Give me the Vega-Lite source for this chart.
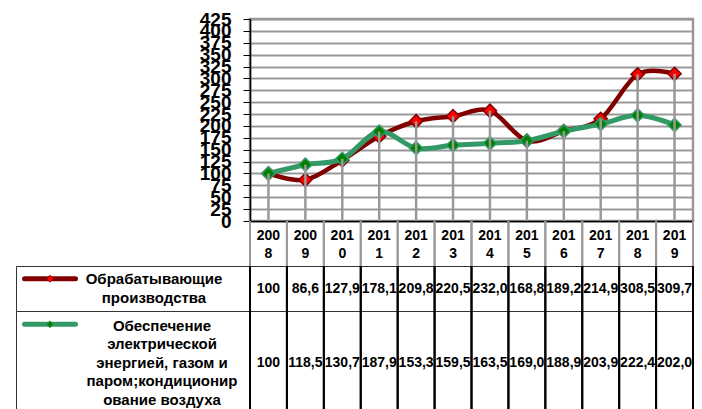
{
  "$schema": "https://vega.github.io/schema/vega-lite/v6.json",
  "background": "white",
  "padding": {"left": 14, "top": 8, "right": 11, "bottom": 0},
  "config": {
    "view": {"stroke": null},
    "font": "Liberation Sans",
    "text": {"font": "Liberation Sans"}
  },
  "datasets": {
    "d": [
      {"year": "2008", "series": "Обрабатывающие производства", "value": 100, "label": "100"},
      {"year": "2009", "series": "Обрабатывающие производства", "value": 86.6, "label": "86,6"},
      {"year": "2010", "series": "Обрабатывающие производства", "value": 127.9, "label": "127,9"},
      {"year": "2011", "series": "Обрабатывающие производства", "value": 178.1, "label": "178,1"},
      {"year": "2012", "series": "Обрабатывающие производства", "value": 209.8, "label": "209,8"},
      {"year": "2013", "series": "Обрабатывающие производства", "value": 220.5, "label": "220,5"},
      {"year": "2014", "series": "Обрабатывающие производства", "value": 232.0, "label": "232,0"},
      {"year": "2015", "series": "Обрабатывающие производства", "value": 168.8, "label": "168,8"},
      {"year": "2016", "series": "Обрабатывающие производства", "value": 189.2, "label": "189,2"},
      {"year": "2017", "series": "Обрабатывающие производства", "value": 214.9, "label": "214,9"},
      {"year": "2018", "series": "Обрабатывающие производства", "value": 308.5, "label": "308,5"},
      {"year": "2019", "series": "Обрабатывающие производства", "value": 309.7, "label": "309,7"},
      {"year": "2008", "series": "Обеспечение электрической энергией, газом и паром;кондиционирование воздуха", "value": 100, "label": "100"},
      {"year": "2009", "series": "Обеспечение электрической энергией, газом и паром;кондиционирование воздуха", "value": 118.5, "label": "118,5"},
      {"year": "2010", "series": "Обеспечение электрической энергией, газом и паром;кондиционирование воздуха", "value": 130.7, "label": "130,7"},
      {"year": "2011", "series": "Обеспечение электрической энергией, газом и паром;кондиционирование воздуха", "value": 187.9, "label": "187,9"},
      {"year": "2012", "series": "Обеспечение электрической энергией, газом и паром;кондиционирование воздуха", "value": 153.3, "label": "153,3"},
      {"year": "2013", "series": "Обеспечение электрической энергией, газом и паром;кондиционирование воздуха", "value": 159.5, "label": "159,5"},
      {"year": "2014", "series": "Обеспечение электрической энергией, газом и паром;кондиционирование воздуха", "value": 163.5, "label": "163,5"},
      {"year": "2015", "series": "Обеспечение электрической энергией, газом и паром;кондиционирование воздуха", "value": 169.0, "label": "169,0"},
      {"year": "2016", "series": "Обеспечение электрической энергией, газом и паром;кондиционирование воздуха", "value": 188.9, "label": "188,9"},
      {"year": "2017", "series": "Обеспечение электрической энергией, газом и паром;кондиционирование воздуха", "value": 203.9, "label": "203,9"},
      {"year": "2018", "series": "Обеспечение электрической энергией, газом и паром;кондиционирование воздуха", "value": 222.4, "label": "222,4"},
      {"year": "2019", "series": "Обеспечение электрической энергией, газом и паром;кондиционирование воздуха", "value": 202.0, "label": "202,0"}
    ],
    "legend": [
      {"series": "Обрабатывающие производства", "name": "Обрабатывающие\nпроизводства"},
      {"series": "Обеспечение электрической энергией, газом и паром;кондиционирование воздуха", "name": "Обеспечение\nэлектрической\nэнергией, газом и\nпаром;кондиционир\nование воздуха"}
    ]
  },
  "columns": 2,
  "spacing": 0,
  "bounds": "flush",
  "align": "each",
  "concat": [
    {
      "width": 234, "height": 202,
      "data": {"values": []},
      "mark": "point"
    },
    {
      "width": 443, "height": 202,
      "data": {"name": "d"},
      "view": {"stroke": "#999999", "strokeWidth": 2.5},
      "encoding": {
        "x": {"field": "year", "type": "ordinal", "title": null,
              "scale": {"type": "point", "padding": 0.5},
              "axis": {"title": null, "labels": false, "ticks": false, "grid": false, "domainColor": "black", "domainWidth": 1.5}}
      },
      "layer": [
        {
          "transform": [{"filter": {"field": "series", "equal": "Обрабатывающие производства"}}],
          "mark": {"type": "line", "interpolate": "cardinal", "strokeWidth": 4.5, "strokeJoin": "round", "color": "#800000"},
          "encoding": {
            "y": {"field": "value", "type": "quantitative", "title": null,
                  "scale": {"domain": [0, 425], "nice": false},
                  "axis": {"title": null, "values": [0, 25, 50, 75, 100, 125, 150, 175, 200, 225, 250, 275, 300, 325, 350, 375, 400, 425],
                           "labelFontSize": 19, "labelFontWeight": "bold", "labelColor": "black", "labelFont": "Liberation Sans",
                           "labelOverlap": false, "labelPadding": 12, "labelBound": false, "labelFlush": false,
                           "tickSize": 7, "tickColor": "black", "tickWidth": 1,
                           "domainColor": "black", "domainWidth": 1.5,
                           "grid": true, "gridColor": "#999999", "gridWidth": 2}}
          }
        },
        {
          "transform": [{"filter": {"field": "series", "equal": "Обрабатывающие производства"}}],
          "mark": {"type": "point", "shape": "diamond", "size": 175, "filled": true, "opacity": 1, "fill": "#ff0000", "stroke": "#800000", "strokeWidth": 1.5},
          "encoding": {
            "y": {"field": "value", "type": "quantitative", "title": null,
                  "scale": {"domain": [0, 425], "nice": false},
                  "axis": {"title": null, "values": [0, 25, 50, 75, 100, 125, 150, 175, 200, 225, 250, 275, 300, 325, 350, 375, 400, 425],
                           "labelFontSize": 19, "labelFontWeight": "bold", "labelColor": "black", "labelFont": "Liberation Sans",
                           "labelOverlap": false, "labelPadding": 12, "labelBound": false, "labelFlush": false,
                           "tickSize": 7, "tickColor": "black", "tickWidth": 1,
                           "domainColor": "black", "domainWidth": 1.5,
                           "grid": true, "gridColor": "#999999", "gridWidth": 2}}
          }
        },
        {
          "transform": [{"filter": {"field": "series", "equal": "Обеспечение электрической энергией, газом и паром;кондиционирование воздуха"}}],
          "mark": {"type": "line", "interpolate": "cardinal", "strokeWidth": 5, "strokeJoin": "round", "color": "#339966"},
          "encoding": {
            "y": {"field": "value", "type": "quantitative", "title": null,
                  "scale": {"domain": [0, 425], "nice": false},
                  "axis": {"title": null, "values": [0, 25, 50, 75, 100, 125, 150, 175, 200, 225, 250, 275, 300, 325, 350, 375, 400, 425],
                           "labelFontSize": 19, "labelFontWeight": "bold", "labelColor": "black", "labelFont": "Liberation Sans",
                           "labelOverlap": false, "labelPadding": 12, "labelBound": false, "labelFlush": false,
                           "tickSize": 7, "tickColor": "black", "tickWidth": 1,
                           "domainColor": "black", "domainWidth": 1.5,
                           "grid": true, "gridColor": "#999999", "gridWidth": 2}}
          }
        },
        {
          "transform": [{"filter": {"field": "series", "equal": "Обеспечение электрической энергией, газом и паром;кондиционирование воздуха"}}],
          "mark": {"type": "point", "shape": "diamond", "size": 175, "filled": true, "opacity": 1, "fill": "#008000", "stroke": "#339966", "strokeWidth": 1.5},
          "encoding": {
            "y": {"field": "value", "type": "quantitative", "title": null,
                  "scale": {"domain": [0, 425], "nice": false},
                  "axis": {"title": null, "values": [0, 25, 50, 75, 100, 125, 150, 175, 200, 225, 250, 275, 300, 325, 350, 375, 400, 425],
                           "labelFontSize": 19, "labelFontWeight": "bold", "labelColor": "black", "labelFont": "Liberation Sans",
                           "labelOverlap": false, "labelPadding": 12, "labelBound": false, "labelFlush": false,
                           "tickSize": 7, "tickColor": "black", "tickWidth": 1,
                           "domainColor": "black", "domainWidth": 1.5,
                           "grid": true, "gridColor": "#999999", "gridWidth": 2}}
          }
        },
        {
          "mark": {"type": "rule", "color": "#999999", "strokeWidth": 2.5},
          "encoding": {
            "y": {"aggregate": "max", "field": "value", "type": "quantitative", "title": null,
                  "scale": {"domain": [0, 425], "nice": false},
                  "axis": {"title": null, "values": [0, 25, 50, 75, 100, 125, 150, 175, 200, 225, 250, 275, 300, 325, 350, 375, 400, 425],
                           "labelFontSize": 19, "labelFontWeight": "bold", "labelColor": "black", "labelFont": "Liberation Sans",
                           "labelOverlap": false, "labelPadding": 12, "labelBound": false, "labelFlush": false,
                           "tickSize": 7, "tickColor": "black", "tickWidth": 1,
                           "domainColor": "black", "domainWidth": 1.5,
                           "grid": true, "gridColor": "#999999", "gridWidth": 2}},
            "y2": {"datum": 0}
          }
        }
      ]
    },
    {
      "width": 234, "height": 45,
      "data": {"values": []},
      "mark": "point"
    },
    {
      "width": 443, "height": 45,
      "data": {"name": "d"},
      "transform": [{"filter": {"field": "series", "equal": "Обрабатывающие производства"}}],
      "layer": [
        {
          "mark": {"type": "rule", "color": "#999999", "strokeWidth": 2},
          "encoding": {
            "x": {"field": "year", "type": "ordinal", "bandPosition": 0, "title": null,
                  "scale": {"type": "band", "paddingInner": 0, "paddingOuter": 0},
                  "axis": {"orient": "top", "title": null, "domain": false, "ticks": false, "grid": false,
                           "labelExpr": "[slice(datum.label,0,3), slice(datum.label,3)]",
                           "labelAngle": 0, "labelFontSize": 14, "labelFontWeight": "bold", "labelColor": "black",
                           "labelFont": "Liberation Sans", "labelBaseline": "top", "labelPadding": -7, "labelLineHeight": 18,
                           "labelAlign": "center"}}
          }
        },
        {
          "mark": {"type": "rule", "color": "#999999", "strokeWidth": 2},
          "encoding": {
            "x": {"field": "year", "type": "ordinal", "bandPosition": 1, "title": null,
                  "scale": {"type": "band", "paddingInner": 0, "paddingOuter": 0}}
          }
        }
      ]
    },
    {
      "width": 234, "height": 45,
      "data": {"name": "legend"},
      "transform": [{"filter": {"field": "series", "equal": "Обрабатывающие производства"}}],
      "view": {"stroke": "#333333", "strokeWidth": 1},
      "layer": [
        {"mark": {"type": "point", "shape": "M-108.5,-9.8L-57.5,-9.8", "size": 4, "filled": false, "opacity": 1, "stroke": "#800000", "strokeWidth": 5, "strokeCap": "round"}},
        {"mark": {"type": "point", "shape": "M-86.5,-9.8L-83,-13.3L-79.5,-9.8L-83,-6.3Z", "size": 4, "filled": true, "opacity": 1, "fill": "#ff0000", "stroke": "#800000", "strokeWidth": 0.8}},
        {"mark": {"type": "text", "lineBreak": "\n", "fontSize": 15, "fontWeight": "bold", "lineHeight": 19, "align": "center", "baseline": "middle", "dx": 21, "dy": -10, "color": "black"},
         "encoding": {"text": {"field": "name", "type": "nominal"}}}
      ]
    },
    {
      "width": 443, "height": 45,
      "data": {"name": "d"},
      "transform": [{"filter": {"field": "series", "equal": "Обрабатывающие производства"}}],
      "view": {"stroke": "#333333", "strokeWidth": 1},
      "encoding": {
        "x": {"field": "year", "type": "ordinal", "title": null,
              "scale": {"type": "band", "paddingInner": 0, "paddingOuter": 0}, "axis": null}
      },
      "layer": [
        {"mark": {"type": "rule", "color": "black", "strokeWidth": 2},
         "encoding": {"x": {"field": "year", "type": "ordinal", "bandPosition": 0, "title": null, "scale": {"type": "band", "paddingInner": 0, "paddingOuter": 0}, "axis": null}}},
        {"mark": {"type": "rule", "color": "black", "strokeWidth": 2},
         "encoding": {"x": {"field": "year", "type": "ordinal", "bandPosition": 1, "title": null, "scale": {"type": "band", "paddingInner": 0, "paddingOuter": 0}, "axis": null}}},
        {"mark": {"type": "text", "fontSize": 14, "fontWeight": "bold", "color": "black", "baseline": "middle"},
         "encoding": {"text": {"field": "label", "type": "nominal"}}}
      ]
    },
    {
      "width": 234, "height": 99,
      "data": {"name": "legend"},
      "transform": [{"filter": {"field": "series", "equal": "Обеспечение электрической энергией, газом и паром;кондиционирование воздуха"}}],
      "view": {"stroke": "#333333", "strokeWidth": 1},
      "layer": [
        {"mark": {"type": "point", "shape": "M-108.5,-36.2L-57.5,-36.2", "size": 4, "filled": false, "opacity": 1, "stroke": "#339966", "strokeWidth": 5, "strokeCap": "round"}},
        {"mark": {"type": "point", "shape": "M-86.5,-36.2L-83,-39.7L-79.5,-36.2L-83,-32.7Z", "size": 4, "filled": true, "opacity": 1, "fill": "#008000", "stroke": "#339966", "strokeWidth": 0.8}},
        {"mark": {"type": "text", "lineBreak": "\n", "fontSize": 15, "fontWeight": "bold", "lineHeight": 18.5, "align": "center", "baseline": "middle", "dx": 29, "dy": -35, "color": "black"},
         "encoding": {"text": {"field": "name", "type": "nominal"}}}
      ]
    },
    {
      "width": 443, "height": 99,
      "data": {"name": "d"},
      "transform": [{"filter": {"field": "series", "equal": "Обеспечение электрической энергией, газом и паром;кондиционирование воздуха"}}],
      "view": {"stroke": "#333333", "strokeWidth": 1},
      "encoding": {
        "x": {"field": "year", "type": "ordinal", "title": null,
              "scale": {"type": "band", "paddingInner": 0, "paddingOuter": 0}, "axis": null}
      },
      "layer": [
        {"mark": {"type": "rule", "color": "black", "strokeWidth": 2},
         "encoding": {"x": {"field": "year", "type": "ordinal", "bandPosition": 0, "title": null, "scale": {"type": "band", "paddingInner": 0, "paddingOuter": 0}, "axis": null}}},
        {"mark": {"type": "rule", "color": "black", "strokeWidth": 2},
         "encoding": {"x": {"field": "year", "type": "ordinal", "bandPosition": 1, "title": null, "scale": {"type": "band", "paddingInner": 0, "paddingOuter": 0}, "axis": null}}},
        {"mark": {"type": "text", "fontSize": 14, "fontWeight": "bold", "color": "black", "baseline": "middle", "dy": 2},
         "encoding": {"text": {"field": "label", "type": "nominal"}}}
      ]
    }
  ]
}
